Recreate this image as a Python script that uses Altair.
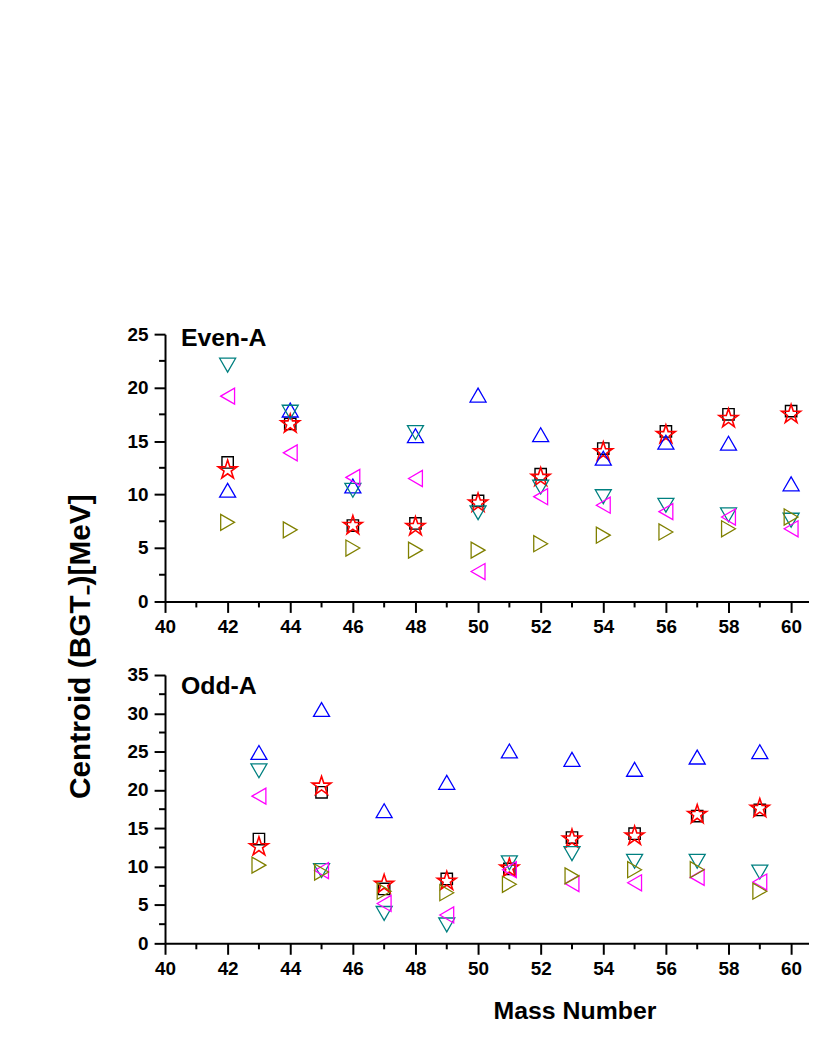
import math
import altair as alt
import pandas as pd

# ---------------- data ----------------
series_names = ["square", "star", "up", "down", "left", "right"]

even_mass = [42, 44, 46, 48, 50, 52, 54, 56, 58, 60]
even_square = [13.0, 16.6, 7.1, 7.3, 9.4, 11.9, 14.3, 15.9, 17.5, 17.8]
even_star = [12.3, 16.6, 7.1, 7.0, 9.2, 11.6, 14.0, 15.6, 17.1, 17.5]
even_up = [10.4, 17.9, 10.8, 15.5, 19.3, 15.6, 13.4, 14.9, 14.8, 11.0]
even_down = [22.1, 17.7, 10.4, 15.8, 8.3, 10.7, 9.8, 9.0, 8.1, 7.6]
even_left = [19.2, 13.9, 11.6, 11.5, 2.8, 9.8, 9.0, 8.4, 7.9, 6.8]
even_right = [7.4, 6.7, 5.0, 4.8, 4.8, 5.4, 6.2, 6.5, 6.8, 7.9]

odd_mass = [43, 45, 47, 49, 51, 53, 55, 57, 59, 61]
odd_square = [13.6, 19.7, 7.1, 8.4, 9.7, 13.8, 14.3, 16.6, 17.4, None]
odd_star = [12.6, 20.5, 7.7, 8.1, 9.8, 13.6, 14.0, 16.8, 17.6, 18.8]
odd_up = [24.9, 30.5, 17.3, 21.0, 25.1, 24.0, 22.7, 24.3, 25.0, None]
odd_down = [22.5, 9.5, 3.9, 2.4, 10.5, 11.7, 10.7, 10.7, 9.3, None]
odd_left = [19.2, 9.5, 5.2, 3.7, 9.6, 7.8, 7.9, 8.6, 8.0, 6.8]
odd_right = [10.2, 9.3, 6.8, 6.6, 7.7, 8.8, 9.6, 9.6, 6.8, None]

x_major = [40, 42, 44, 46, 48, 50, 52, 54, 56, 58, 60]
x_minor = [41, 43, 45, 47, 49, 51, 53, 55, 57, 59]
even_y_major = [0, 5, 10, 15, 20, 25]
even_y_minor = [2.5, 7.5, 12.5, 17.5, 22.5]
odd_y_major = [0, 5, 10, 15, 20, 25, 30, 35]
odd_y_minor = [2.5, 7.5, 12.5, 17.5, 22.5, 27.5, 32.5]

# ---------------- styling ----------------
FONT = "Liberation Sans"
W = 648
H_TOP = 269
H_BOT = 270
XDOM = [40, 40 + W / 31.5]


def star_path(r_in=0.382):
    pts = []
    for k in range(10):
        a = math.radians(36 * k)
        r = 1.0 if k % 2 == 0 else r_in
        pts.append((r * math.sin(a), -r * math.cos(a)))
    return "M" + "L".join(f"{x:.4f},{y:.4f}" for x, y in pts) + "Z"


shapes = ["square", star_path(), "triangle-up", "triangle-down", "triangle-left", "triangle-right"]
colors = ["#000000", "#FF0000", "#0000FF", "#008080", "#FF00FF", "#808000"]
sizes = [130, 400, 260, 260, 260, 260]
widths = [1.4, 1.6, 1.3, 1.3, 1.3, 1.3]


def panel(mass, cols, ymax, ymajor, yminor, H, label, label_y, xtitle, ytitle):
    xscale = alt.Scale(domain=XDOM, nice=False, zero=False)
    yscale = alt.Scale(domain=[0, ymax], nice=False, zero=True)
    if xtitle:
        xaxis = alt.Axis(values=x_major, title=xtitle, titleX=412, titleY=76,
                         titleBaseline="alphabetic", titleFontSize=25)
    else:
        xaxis = alt.Axis(values=x_major, title=None)
    if ytitle:
        yaxis = alt.Axis(values=ymajor, title=ytitle, titleX=-76, titleY=-29,
                         titleAngle=270, titleBaseline="alphabetic", titleFontSize=30,
                         titleAlign="center")
    else:
        yaxis = alt.Axis(values=ymajor, title=None)

    layers = []
    for i, (name, vals) in enumerate(zip(series_names, cols)):
        df = pd.DataFrame({"mass": mass, "value": vals}).dropna()
        enc = dict(
            x=alt.X("mass:Q", scale=xscale, axis=xaxis if i == 0 else None),
            y=alt.Y("value:Q", scale=yscale, axis=yaxis if i == 0 else None),
        )
        layers.append(
            alt.Chart(df).mark_point(
                filled=False, opacity=1, clip=True, shape=shapes[i], color=colors[i],
                size=sizes[i], strokeWidth=widths[i],
            ).encode(**enc)
        )
    mx = alt.Chart(pd.DataFrame({"mass": x_minor})).mark_rule(color="black", strokeWidth=2).encode(
        x=alt.X("mass:Q", scale=xscale, axis=None),
        y=alt.value(H), y2=alt.value(H + 6),
    )
    my = alt.Chart(pd.DataFrame({"value": yminor})).mark_rule(color="black", strokeWidth=2).encode(
        y=alt.Y("value:Q", scale=yscale, axis=None),
        x=alt.value(-6), x2=alt.value(0),
    )
    txt = alt.Chart(pd.DataFrame({"t": [label]})).mark_text(
        font=FONT, fontSize=25, fontWeight="bold", align="left", baseline="alphabetic", color="black"
    ).encode(x=alt.value(16), y=alt.value(label_y), text="t:N")
    return alt.layer(*layers, mx, my, txt).resolve_axis(
        x="independent", y="independent").properties(width=W, height=H)


top = panel(even_mass, [even_square, even_star, even_up, even_down, even_left, even_right],
            25, even_y_major, even_y_minor, H_TOP, "Even-A", 12, None, None)
bottom = panel(odd_mass, [odd_square, odd_star, odd_up, odd_down, odd_left, odd_right],
               35, odd_y_major, odd_y_minor, H_BOT, "Odd-A", 19,
               "Mass Number", "Centroid (BGT\u208b)[MeV]")

chart = alt.vconcat(top, bottom, spacing=74, bounds="flush").properties(
    padding={"left": 57, "top": 316, "right": 0, "bottom": 0}
).configure_view(stroke=None).configure_axis(
    domainColor="black", domainWidth=2, tickColor="black", tickWidth=2, tickSize=11,
    labelFont=FONT, labelFontSize=19, labelFontWeight="bold", labelColor="black",
    labelPadding=6, labelFlush=False, labelOverlap=False, grid=False,
    titleFont=FONT, titleFontWeight="bold", titleColor="black",
).configure_axisX(labelPadding=5)

chart.save("out.html", embed_options={"renderer": "svg", "actions": False})
